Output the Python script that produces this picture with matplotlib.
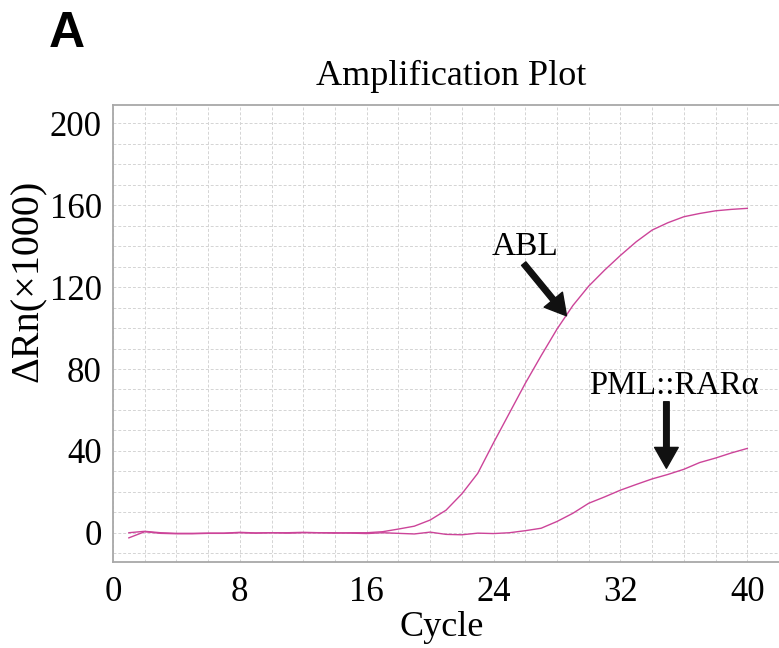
import matplotlib.pyplot as plt

# Data
# ------------------------------------------------------------------------------------------
cycles = list(range(1, 41))
abl = [-2.5, 0.5, -0.3, -0.5, -0.5, -0.3, -0.3, 0.0, -0.2, 0.0,
       -0.2, 0.0, 0.0, -0.2, 0.0, 0.0, 0.5, 1.8, 3.2, 6.2,
       11.0, 19.0, 29.0, 44.0, 58.5, 73.0, 86.5, 99.5, 111.0, 120.5,
       128.3, 135.5, 142.2, 147.9, 151.5, 154.4, 156.0, 157.3, 158.0, 158.5]
pml_rara = [0.0, 0.7, 0.0, -0.3, -0.3, -0.2, -0.2, 0.2, -0.1, 0.0,
            0.0, 0.2, 0.0, 0.0, -0.2, -0.4, 0.0, -0.3, -0.6, 0.3,
            -0.8, -1.0, -0.2, -0.4, 0.0, 1.0, 2.2, 5.5, 9.5, 14.4,
            17.5, 20.8, 23.6, 26.3, 28.5, 31.0, 34.3, 36.5, 39.0, 41.2]
xticks = [0, 8, 16, 24, 32, 40]
yticks = [0, 40, 80, 120, 160, 200]

# Plot
# ------------------------------------------------------------------------------------------
plt.rcParams['font.family'] = ['Liberation Serif', 'DejaVu Serif']
line_color = '#cc4499'

fig = plt.figure(figsize=(7.79, 6.48), dpi=100)
ax = fig.add_axes([113/779, 1 - 562/648, 1 - 113/779, (562 - 105)/648])

ax.plot(cycles, abl, color=line_color, lw=1.0)
ax.plot(cycles, pml_rara, color=line_color, lw=1.0)

ax.set_xlim(0, 42)
ax.set_ylim(-14.3, 209)
ax.set_xticks(xticks)
ax.set_yticks(yticks)
ax.set_xticks(range(0, 43, 2), minor=True)
ax.set_yticks(range(-10, 210, 10), minor=True)
ax.tick_params(which='both', length=0, labelsize=25)
ax.tick_params(axis='x', pad=10)
ax.tick_params(axis='y', pad=8)
ax.grid(which='both', color='#d4d4d4', lw=0.7, linestyle=(0, (3, 2)))
ax.set_axisbelow(True)
for s in ['left', 'bottom', 'top']:
    ax.spines[s].set_color('#a8a8a8')
    ax.spines[s].set_linewidth(1.3)
ax.spines['right'].set_visible(False)

# annotations
ax.text(26.0, 139.6, 'ABL', fontsize=24, ha='center', va='center')
ax.annotate('', xy=(28.6, 106.0), xytext=(25.9, 131.5),
            arrowprops=dict(facecolor='#111111', edgecolor='#111111',
                            width=4, headwidth=17, headlength=15, shrink=0))
ax.text(35.4, 72.0, 'PML::RAR\u03b1', fontsize=23.5, ha='center', va='center')
ax.annotate('', xy=(34.9, 31.5), xytext=(34.9, 64.0),
            arrowprops=dict(facecolor='#111111', edgecolor='#111111',
                            width=4, headwidth=17, headlength=15, shrink=0))

fig.text(451/779, 1 - 76/648, 'Amplification Plot', fontsize=26,
         ha='center', va='center')
fig.text(442/779, 1 - 627/648, 'Cycle', fontsize=26, ha='center', va='center')
fig.text(28/779, 1 - 281/648, '\u0394Rn(\u00d71000)', fontsize=29,
         ha='center', va='center', rotation=90)
fig.text(49/779, 1 - 34/648, 'A', fontsize=36, fontweight='bold',
         family='Liberation Sans', ha='left', va='center')

plt.savefig('out.png', dpi=100)
plt.close(fig)
